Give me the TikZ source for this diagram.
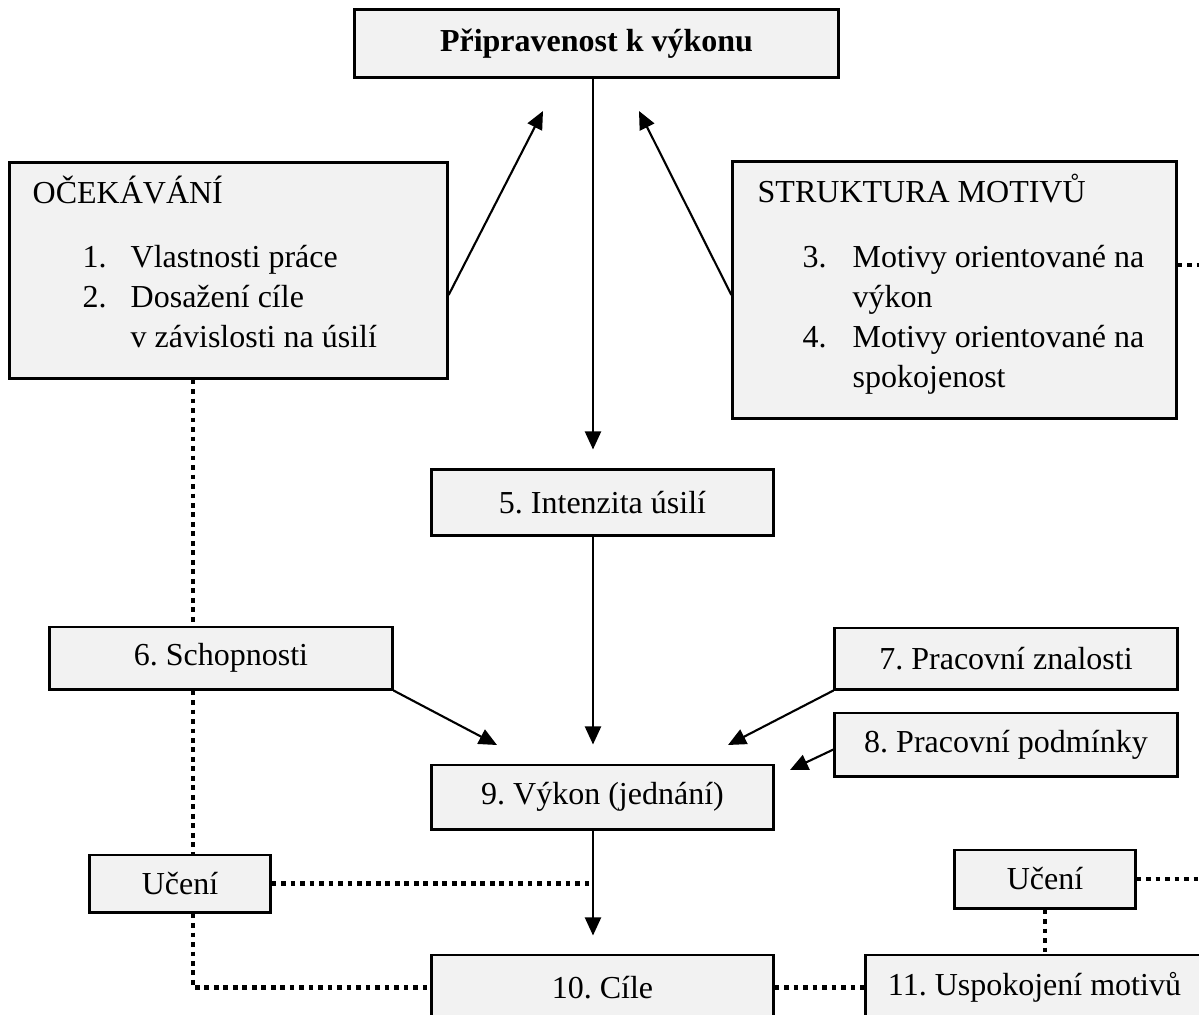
\documentclass[tikz,border=0pt]{standalone}
\usepackage{fontspec}
\setmainfont{Liberation Serif}
\usepackage{tikz}
\usetikzlibrary{arrows.meta, positioning, calc}
\definecolor{boxgray}{RGB}{242, 242, 242}

\tikzset{
  box/.style={draw, line width=0.85pt, fill=boxgray, inner sep=0pt},
  txt/.style={inner sep=0pt, anchor=base west},
  arr/.style={line width=0.6pt, -{Triangle[length=1.8mm, width=1.6mm]}},
  dots/.style={line width=1.3pt, dash pattern=on 1.3pt off 1.4pt}
}

\begin{document}
\frenchspacing
\begin{tikzpicture}[x=0.01cm, y=-0.01cm, font=\fontsize{9.1pt}{11pt}\selectfont]
  \useasboundingbox (0,0) rectangle (1199,1014);
  \clip (0,0) rectangle (1199,1014);

  % boxes
  \node[box, minimum width=4.83cm, minimum height=0.67cm, font=\fontsize{9.1pt}{11pt}\selectfont\bfseries] (ready) at (596.5,43.5) {Připravenost k výkonu};
  \node[box, minimum width=4.37cm, minimum height=2.15cm] (expect) at (228.5,270.5) {};
  \node[box, minimum width=4.43cm, minimum height=2.56cm] (motives) at (954.5,290) {};
  \node[box, minimum width=3.41cm, minimum height=0.65cm] (effort) at (602.5,502.5) {5. Intenzita úsilí};
  \node[box, minimum width=3.42cm, minimum height=0.62cm] (ability) at (221,658) {6. Schopnosti};
  \node[box, minimum width=3.42cm, minimum height=0.61cm] (knowledge) at (1006,658.5) {7. Pracovní znalosti};
  \node[box, minimum width=3.42cm, minimum height=0.63cm] (conditions) at (1006,744.5) {8. Pracovní podmínky};
  \node[box, minimum width=3.41cm, minimum height=0.64cm] (perf) at (602.5,797) {9. Výkon (jednání)};
  \node[box, minimum width=1.80cm, minimum height=0.57cm] (learnL) at (180,883.5) {Učení};
  \node[box, minimum width=1.80cm, minimum height=0.58cm] (learnR) at (1045,879) {Učení};
  \node[box, minimum width=3.41cm, minimum height=0.65cm] (goals) at (602.5,987.5) {10. Cíle};
  \node[box, minimum width=3.37cm, minimum height=0.65cm] (satisf) at (1034.5,987.5) {11. Uspokojení motivů};

  % texts in the two big boxes
  \node[txt] (expectHead) at (32,203) {OČEKÁVÁNÍ};
  \node[txt] (expectN1) at (82,267) {1.};
  \node[txt] (expectT1) at (130,267) {Vlastnosti práce};
  \node[txt] (expectN2) at (82,307) {2.};
  \node[txt] (expectT2) at (130,307) {Dosažení cíle};
  \node[txt] (expectT2b) at (130,347) {v závislosti na úsilí};

  \node[txt] (motivesHead) at (757,202) {STRUKTURA MOTIVŮ};
  \node[txt] (motivesN3) at (802,267) {3.};
  \node[txt] (motivesT3) at (852,267) {Motivy orientované na};
  \node[txt] (motivesT3b) at (852,307) {výkon};
  \node[txt] (motivesN4) at (802,347) {4.};
  \node[txt] (motivesT4) at (852,347) {Motivy orientované na};
  \node[txt] (motivesT4b) at (852,387) {spokojenost};

  % free ends
  \coordinate (mainx) at (593,0);
  \coordinate (dotx) at (193,0);
  \coordinate (rim) at (1199,0);
  \coordinate (tipL) at (543,111);
  \coordinate (tipR) at (639,111);
  \coordinate (tipA) at (497,745);
  \coordinate (tipK) at (728,745);
  \coordinate (tipC) at (790,770);

  % arrows
  \draw[arr, shorten >=0.19cm] (ready.south -| mainx) -- (effort.north -| mainx);
  \draw[arr, shorten >=0.19cm] (effort.south -| mainx) -- (perf.north -| mainx);
  \draw[arr, shorten >=0.18cm] (perf.south -| mainx) -- (goals.north -| mainx);
  \draw[arr] ($(expect.east)+(0,24.5)$) -- (tipL);
  \draw[arr] ($(motives.west)+(0,5)$) -- (tipR);
  \draw[arr] (ability.south east) -- (tipA);
  \draw[arr] (knowledge.south west) -- (tipK);
  \draw[arr] ($(conditions.west)+(0,5)$) -- (tipC);

  % dotted links
  \draw[dots] (expect.south -| dotx) -- (ability.north -| dotx);
  \draw[dots] (ability.south -| dotx) -- (learnL.north -| dotx);
  \draw[dots] (learnL.south -| dotx) |- (goals.west);
  \draw[dots] (learnL.east) -- (learnL.east -| mainx);
  \draw[dots] (goals.east) -- (satisf.west);
  \draw[dots] (learnR.south) -- (learnR.south |- satisf.north);
  \draw[dots] (learnR.east) -- (learnR.east -| rim);
  \draw[dots] ($(motives.east)+(0,-25)$) -- ($(motives.east -| rim)+(0,-25)$);
\end{tikzpicture}
\end{document}
